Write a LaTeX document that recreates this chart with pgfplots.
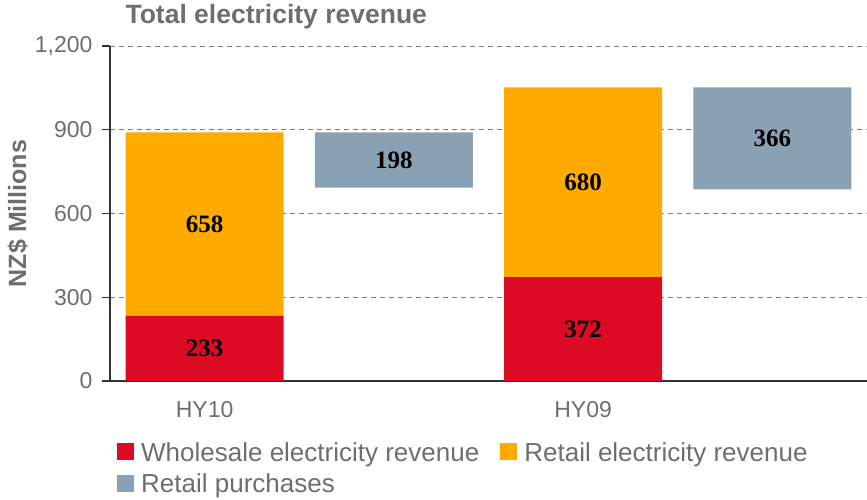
\documentclass[border=0pt]{standalone}
\usepackage{pgfplots}
\pgfplotsset{compat=1.18}
\usepackage{fontspec}
\setmainfont{Liberation Sans}
\newfontfamily\labelfont{Liberation Serif}

\definecolor{wsred}{HTML}{DC0A23}
\definecolor{rtorange}{HTML}{FFAA00}
\definecolor{rpgray}{HTML}{8AA0B3}
\definecolor{txtgray}{HTML}{6E6E6E}

% shared geometry for the bar axis and the label overlay
\pgfplotsset{
  chartbox/.style={
    scale only axis, width=757pt, height=335pt,
    xmin=-0.5, xmax=3.5, ymin=0, ymax=1200,
    at={(0pt,0pt)}, anchor=south west,
  },
}

\begin{document}
\begin{tikzpicture}
\begin{axis}[
  chartbox,
  ybar stacked, bar width=0.834,
  axis lines*=left,
  axis line style={line width=1.2pt, black!80},
  xtick={0,2}, xticklabels={HY10,HY09},
  xtick style={draw=none},
  ytick={0,300,...,1200},
  ytick style={line width=1.2pt, black!80},
  tick align=outside, major tick length=8pt,
  ymajorgrids,
  grid style={line width=1pt, gray, dash pattern=on 5pt off 4pt},
  /pgf/number format/1000 sep={,},
  /pgf/number format/assume math mode=true,
  tick label style={font=\fontsize{23}{27}\selectfont, text=txtgray},
  xticklabel shift=9pt,
  yticklabel shift=6pt,
  title={Total electricity revenue},
  title style={font=\bfseries\fontsize{26.5}{31}\selectfont, text=txtgray,
    at={(rel axis cs:0,1)}, anchor=base west, xshift=12pt, yshift=17pt},
  ylabel={NZ\$ Millions},
  ylabel style={font=\bfseries\fontsize{25}{30}\selectfont, text=txtgray},
  legend columns=2,
  legend cell align=left,
  legend style={draw=none, fill=none, at={(rel axis cs:0,0)}, anchor=north west,
    xshift=7pt, yshift=-59pt, inner sep=0pt,
    font=\fontsize{26}{31}\selectfont, text=txtgray,
    row sep=7pt,
    /tikz/every odd column/.append style={column sep=5pt},
    /tikz/every even column/.append style={column sep=19pt}},
  legend image code/.code={\fill[#1] (0pt,-8pt) rectangle (17pt,9pt);},
]
\addplot[draw=none, fill=none, forget plot] coordinates {(0,0) (1,693) (2,0) (3,686)};
\addplot[draw=none, fill=wsred] coordinates {(0,233) (1,0) (2,372) (3,0)};
\addlegendentry{Wholesale electricity revenue}
\addplot[draw=none, fill=rtorange] coordinates {(0,658) (1,0) (2,680) (3,0)};
\addlegendentry{Retail electricity revenue}
\addplot[draw=none, fill=rpgray] coordinates {(0,0) (1,198) (2,0) (3,366)};
\addlegendentry{Retail purchases}
\end{axis}
\begin{axis}[chartbox, hide axis, clip=false]
\addplot[draw=none, mark=none, nodes near coords, point meta=explicit symbolic,
  every node near coord/.append style={anchor=center,
    font=\labelfont\bfseries\fontsize{25}{30}\selectfont, text=black}]
  coordinates {(0,116.5)[233] (0,562)[658] (1,792)[198] (2,186)[372] (2,712)[680] (3,869)[366]};
\end{axis}
\pgfresetboundingbox
\path[use as bounding box] (-110pt,-118pt) rectangle (757pt,381pt);
\end{tikzpicture}
\end{document}
